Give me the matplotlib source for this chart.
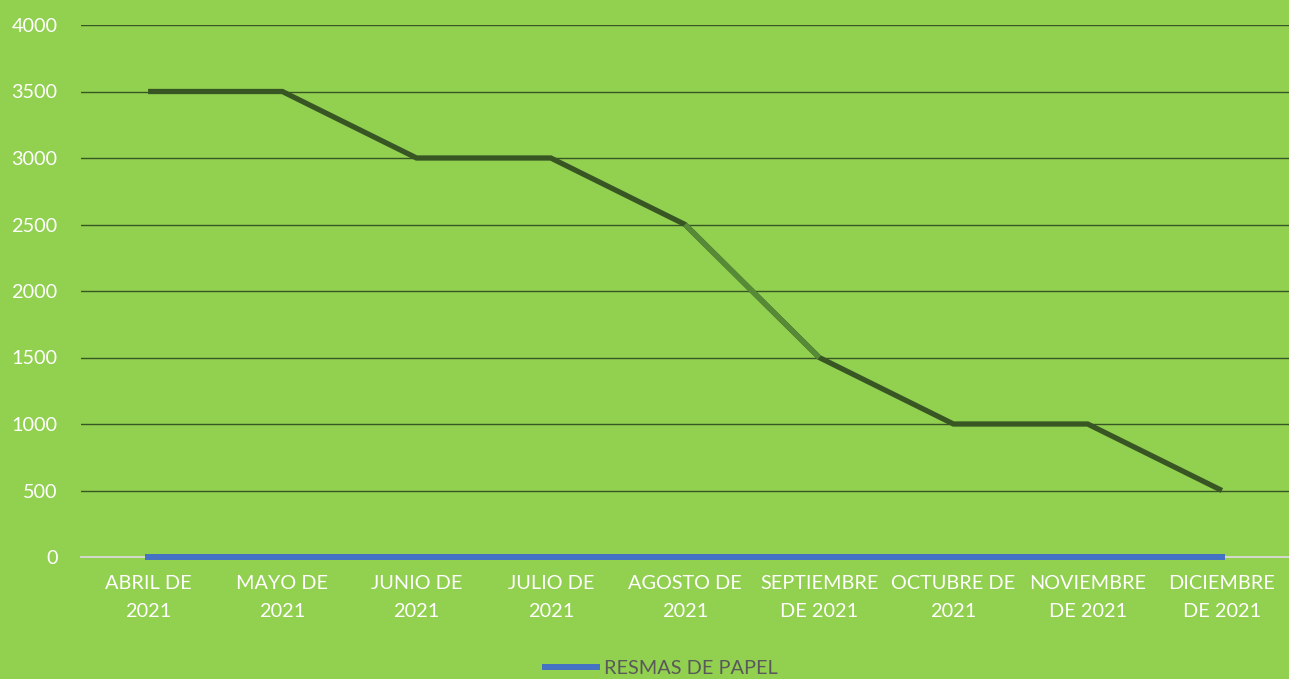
import matplotlib
matplotlib.use("Agg")
import matplotlib.pyplot as plt
import numpy as np

categories = ["ABRIL DE\n2021", "MAYO DE\n2021", "JUNIO DE\n2021", "JULIO DE\n2021",
              "AGOSTO DE\n2021", "SEPTIEMBRE\nDE 2021", "OCTUBRE DE\n2021",
              "NOVIEMBRE\nDE 2021", "DICIEMBRE\nDE 2021"]
stock = [3500, 3500, 3000, 3000, 2500, 1500, 1000, 1000, 500]
resmas = [0, 0, 0, 0, 0, 0, 0, 0, 0]
yticks = [0, 500, 1000, 1500, 2000, 2500, 3000, 3500, 4000]

BG = "#92D050"
plt.rcParams['font.family'] = ['Lato', 'DejaVu Sans']
FS = 14.3

fig = plt.figure(figsize=(12.89, 6.79), dpi=100, facecolor=BG)
ax = fig.add_axes([81/1289, 1-557/679, 1-81/1289, (557-25)/679])
ax.set_facecolor(BG)

x = np.arange(len(categories))
ax.set_xlim(-0.5, len(categories)-0.5)
ax.set_ylim(0, 4000)

for t in yticks[1:]:
    ax.axhline(t, color="#375623", lw=1.0, zorder=1)
ax.axhline(0, color="#D9D9D9", lw=1.3, zorder=1, clip_on=False)

ax.plot(x, stock, color="#375623", lw=3.8, zorder=3, solid_capstyle="butt", solid_joinstyle="miter")
ax.plot(x[4:6], stock[4:6], color="#578A36", lw=3.8, zorder=4, solid_capstyle="butt")
ax.plot(x, resmas, color="#4472C4", lw=4.3, zorder=5, solid_capstyle="projecting",
        label="RESMAS DE PAPEL", clip_on=False)

ax.set_yticks(yticks)
ax.set_yticklabels([str(v) for v in yticks], color="white", fontsize=FS)
ax.set_xticks(x)
ax.set_xticklabels(categories, color="white", fontsize=FS, linespacing=1.8)
ax.tick_params(axis="both", length=0)
ax.tick_params(axis="y", pad=17)
ax.tick_params(axis="x", pad=13)
for s in ax.spines.values():
    s.set_visible(False)

leg = fig.legend(loc="lower center", bbox_to_anchor=(0.513, -0.024), frameon=False,
                 fontsize=FS, handlelength=2.6, handletextpad=0.35)
for t in leg.get_texts():
    t.set_color("#595959")

fig.savefig("out.png", dpi=100, facecolor=BG)
